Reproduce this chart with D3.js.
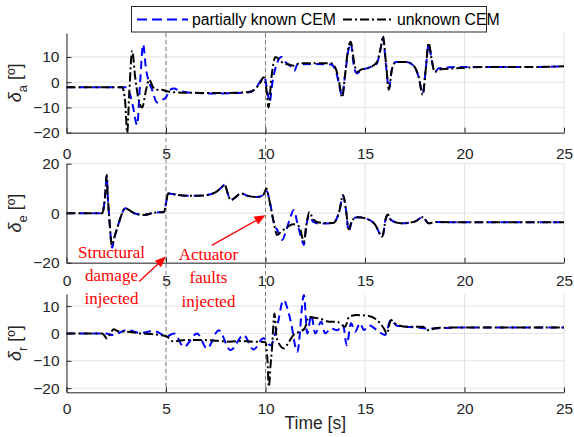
<!DOCTYPE html>
<html>
<head>
<meta charset="utf-8">
<script src="https://cdn.jsdelivr.net/npm/d3@7"></script>
<style>
body{margin:0;background:#fff}
text{font-family:Arial,"Liberation Sans",Helvetica,sans-serif}
</style>
</head>
<body>
<svg id="mainsvg" width="574" height="437"></svg>
<script>
// ticks and labels
const timeTicks = [0, 5, 10, 15, 20, 25]
const aileronTicks = [-20, -10, 0, 10]
const elevatorTicks = [-20, 0, 20]
const rudderTicks = [-20, -10, 0, 10]
const faultTimes = [5, 10]
const seriesNames = ['partially known CEM', 'unknown CEM']

// [time s, deflection deg]
const aileronKnown = [[0,-2],[3.0,-2],[3.2,-5],[3.35,-10],[3.55,-17],[3.7,0],[3.85,15],[4.0,5],[4.15,0],[4.3,-3],[4.55,-8],[4.8,-7],[5.0,-6],[5.2,-3],[5.4,-2.5],[5.7,-3.5],[6.5,-4.3],[7.5,-4.5],[8.5,-4.3],[9.2,-4],[9.5,-2.5],[9.8,1],[9.95,2],[10.1,-4],[10.2,-8],[10.35,0],[10.6,8],[10.8,10],[11.0,8],[11.3,6],[11.45,4.5],[11.6,7],[12.5,7.2],[13.3,7],[13.55,4],[13.7,-1],[13.85,-5.5],[14.0,3],[14.15,12],[14.28,15.5],[14.45,6],[14.6,3.5],[14.85,5],[15.1,5.5],[15.4,6.5],[15.6,7.5],[15.8,14],[15.9,17.5],[16.05,7],[16.2,-2.5],[16.35,5],[16.55,8],[17.1,8],[17.5,6],[17.7,2],[17.9,-4.5],[18.05,5],[18.2,15],[18.35,9],[18.5,4],[18.7,5.5],[19.5,6],[21,6],[23,6],[25,6.3]]
const aileronUnknown = [[0,-2],[2.8,-2],[2.95,-8],[3.05,-20],[3.15,-5],[3.3,12.5],[3.45,2],[3.6,-6],[3.8,-10],[4.0,-3],[4.15,1],[4.35,-2],[4.5,-3],[4.8,-3],[5.0,-3.5],[5.5,-4],[6.5,-4.2],[7.5,-4.3],[8.5,-4.2],[9.2,-3.8],[9.5,-2.5],[9.75,0],[9.9,2],[10.05,-3],[10.15,-10],[10.3,2],[10.5,10],[10.9,7.5],[11.2,7],[11.45,6.5],[11.7,7.5],[12.5,7.5],[13.3,7.5],[13.55,5],[13.7,0],[13.85,-6],[14.0,3],[14.15,13],[14.28,16],[14.45,8],[14.6,4],[14.8,5],[15.1,5.5],[15.4,6.5],[15.6,8],[15.8,14],[15.9,18.3],[16.05,8],[16.2,-3],[16.35,5],[16.55,8],[17.1,8],[17.5,6],[17.7,2],[17.9,-5],[18.05,5],[18.2,15.6],[18.35,9],[18.5,4],[18.7,5],[19.5,5.5],[21,6],[23,6],[25,6.3]]

const elevatorKnown = [[0,0],[1.8,0],[1.95,8],[2.02,15],[2.08,6],[2.15,-2],[2.3,-14],[2.4,-10],[2.55,-6],[2.75,-1],[2.95,2],[3.2,1],[3.4,0],[3.9,-0.7],[4.4,0.2],[4.9,0.5],[5.0,4],[5.1,8],[5.5,7.5],[6.2,7],[6.9,7.2],[7.5,8.5],[7.8,10.5],[7.95,11.5],[8.1,8],[8.25,5.3],[8.5,6.5],[8.75,8],[9.1,7],[9.6,6.5],[9.9,7.5],[10.05,9],[10.25,3.3],[10.4,-3.3],[10.6,-7],[10.84,-10.8],[11.0,-8],[11.2,-3],[11.42,1.3],[11.6,-4],[11.8,-10],[11.93,-12.8],[12.05,-5],[12.2,-1],[12.4,-3.5],[12.7,-4.2],[13.4,-4],[13.7,0.5],[13.9,7],[14.05,1],[14.18,-7.4],[14.35,-3],[14.6,-1.6],[15.1,-2.3],[15.5,-4.5],[15.87,-9.5],[16.05,-2],[16.15,-0.5],[16.3,-2.7],[16.8,-4.1],[17.5,-3.4],[17.9,-1.6],[18.2,-4.1],[18.5,-3.6],[21,-3.7],[25,-3.7]]
const elevatorUnknown = [[0,0],[1.8,0],[1.95,8],[2.02,15.5],[2.08,6],[2.15,-2],[2.28,-13],[2.4,-10],[2.55,-6],[2.75,-1],[2.95,2],[3.2,1],[3.4,0],[3.9,-0.7],[4.4,0.2],[4.9,0.5],[5.0,4],[5.1,8],[5.5,7.5],[6.2,7],[6.9,7.2],[7.5,8.5],[7.8,10.5],[7.95,11.5],[8.1,8],[8.25,5.3],[8.5,6.5],[8.75,8],[9.1,7],[9.6,6.5],[9.9,7.5],[10.05,10],[10.15,7],[10.25,3],[10.4,-3],[10.58,-8.8],[10.8,-7.4],[11.1,-5.5],[11.4,-4.5],[11.7,-5.5],[11.93,-11.5],[12.05,-5],[12.2,0.5],[12.4,-2.5],[12.7,-3.8],[13.4,-4],[13.7,0.5],[13.9,7.4],[14.05,1],[14.18,-6.5],[14.35,-3],[14.6,-1.6],[15.1,-2.3],[15.5,-4.5],[15.87,-9.5],[16.05,-2],[16.15,-0.5],[16.3,-2.7],[16.8,-4.1],[17.5,-3.4],[17.9,-1.6],[18.2,-4.1],[18.5,-3.6],[21,-3.7],[25,-3.7]]

const rudderKnown = [[0,0],[2.0,0],[2.3,-0.6],[3.04,1.2],[3.7,0.2],[4.38,0.9],[5.05,-1],[5.4,0],[5.9,-4.9],[6.56,0],[7.06,-5.5],[7.65,1.2],[8.24,-6.1],[8.9,-0.6],[9.4,-5.9],[9.9,-1.8],[10.25,-4.3],[10.58,2.4],[10.9,12.2],[11.25,5],[11.6,-6.7],[11.93,14],[12.1,0],[12.3,6.7],[12.5,0],[12.8,4.3],[13.0,0],[13.3,1.8],[13.6,1.2],[13.9,3],[14.08,-4.3],[14.3,3.7],[14.5,0.6],[14.75,3.7],[14.95,1.2],[15.2,3],[15.6,1.2],[16.0,-0.6],[16.3,4.9],[16.6,2.8],[17.5,2.2],[18.2,1.8],[20,2.2],[25,2.2]]
const rudderUnknown = [[0,0],[1.8,0],[2.03,-1.8],[2.2,0],[2.37,1.5],[2.6,0.8],[3.0,0.6],[3.4,0.3],[3.7,0],[4.2,-0.2],[4.7,-0.6],[5.05,-1.2],[5.38,-3],[5.7,-2.6],[6.0,-2.4],[6.7,-2.4],[7.2,-2.5],[7.6,-2.7],[8.2,-3],[8.8,-2.8],[9.4,-3],[9.8,-3],[10.0,-3.2],[10.1,-10],[10.17,-19.5],[10.25,-12],[10.33,-5],[10.45,7.3],[10.55,-1],[10.7,-4],[10.93,-5.5],[11.1,-4],[11.4,-0.6],[11.7,0.6],[11.97,1.8],[12.18,6.1],[12.4,5.8],[12.7,5.5],[13.2,4.3],[13.6,4.3],[13.75,3.7],[14.0,2.4],[14.2,6.1],[14.6,6.7],[15.1,6.5],[15.6,4.9],[15.95,1.8],[16.1,0],[16.3,4.9],[16.5,3.7],[17.1,2.4],[17.9,2.4],[18.2,1.2],[18.6,2.0],[20,2.2],[25,2.2]]

// annotation text and arrows, in elevator-panel data units
const noteStructural = ['Structural', 'damage', 'injected']
const noteActuator = ['Actuator', 'faults', 'injected']
const arrowStructural = [[3.65, -27.6], [5.0, -17.5]]
const arrowActuator = [[7.3, -13], [10.0, -0.8]]

const svg = d3.select('#mainsvg')
const x = d3.scaleLinear().domain([0, 25]).range([66.5, 564])
const axisColor = '#262626'
const gridColor = '#e3e3e3'

const panels = [
    {sub: 'a', top: 33, bottom: 132.7, ylim: [-20, 19.5], ticks: aileronTicks, known: aileronKnown, unknown: aileronUnknown, pad: 15},
    {sub: 'e', top: 163.7, bottom: 262.7, ylim: [-20, 20], ticks: elevatorTicks, known: elevatorKnown, unknown: elevatorUnknown, pad: 12},
    {sub: 'r', top: 294, bottom: 392.3, ylim: [-21.5, 14.4], ticks: rudderTicks, known: rudderKnown, unknown: rudderUnknown, pad: 11}
]

function drawPanel(p){
    let y = d3.scaleLinear().domain(p.ylim).range([p.bottom, p.top])
    p.y = y
    const g = svg.append('g')
    // grid
    g.selectAll('.gx').data(timeTicks).enter().append('line')
        .attr('x1', d => x(d)).attr('x2', d => x(d))
        .attr('y1', p.top).attr('y2', p.bottom)
        .attr('stroke', gridColor).attr('stroke-width', 1)
    g.selectAll('.gy').data(p.ticks).enter().append('line')
        .attr('x1', x(0)).attr('x2', x(25))
        .attr('y1', d => y(d)).attr('y2', d => y(d))
        .attr('stroke', gridColor).attr('stroke-width', 1)
    return g
}

function drawSeries(p){
    let line = d3.line().x(d => x(d[0])).y(d => p.y(d[1])).curve(d3.curveMonotoneX)
    const g = svg.append('g')
    g.append('path').datum(p.known).attr('d', line)
        .attr('fill', 'none').attr('stroke', '#0000ff').attr('stroke-width', 2)
        .attr('stroke-dasharray', '8,5')
    g.append('path').datum(p.unknown).attr('d', line)
        .attr('fill', 'none').attr('stroke', '#000').attr('stroke-width', 2)
        .attr('stroke-dasharray', '9,3,2,3')
}

function drawAxes(p){
    const gx = svg.append('g').attr('transform', `translate(0,${p.bottom})`)
        .call(d3.axisBottom(x).tickValues(timeTicks).tickSizeInner(-5).tickSizeOuter(0).tickPadding(p.pad))
    const gy = svg.append('g').attr('transform', `translate(${x(0)},0)`)
        .call(d3.axisLeft(p.y).tickValues(p.ticks).tickSizeInner(-5).tickSizeOuter(0).tickPadding(7))
    for (const a of [gx, gy]) {
        a.select('.domain').attr('stroke', axisColor)
        a.selectAll('.tick line').attr('stroke', axisColor)
        a.selectAll('text').attr('fill', axisColor).style('font-size', '15.5px')
            .style('font-family', 'Arial, "Liberation Sans", sans-serif')
    }
    // y label
    const lab = svg.append('text')
        .attr('transform', `translate(21,${(p.top + p.bottom) / 2}) rotate(-90)`)
        .attr('text-anchor', 'middle').attr('fill', axisColor).style('font-size', '18px')
    lab.append('tspan').text('δ').style('font-style', 'italic')
    lab.append('tspan').text(p.sub).attr('dy', 6).style('font-size', '13px')
    lab.append('tspan').text(' [º]').attr('dy', -6)
}

panels.forEach(drawPanel)

// fault lines through all panels
svg.append('g').selectAll('line').data(faultTimes).enter().append('line')
    .attr('x1', d => x(d)).attr('x2', d => x(d))
    .attr('y1', panels[0].top).attr('y2', panels[2].bottom)
    .attr('stroke', '#808080').attr('stroke-width', 1).attr('stroke-dasharray', '4,3')

panels.forEach(drawSeries)
panels.forEach(drawAxes)

svg.append('text').attr('x', x(12.5)).attr('y', 429).attr('text-anchor', 'middle')
    .attr('fill', axisColor).style('font-size', '17.5px').text('Time [s]')

// legend
const lg = svg.append('g')
lg.append('rect').attr('x', 131.5).attr('y', 6.5).attr('width', 355).attr('height', 25.5)
    .attr('fill', 'white').attr('stroke', axisColor)
lg.append('line').attr('x1', 137).attr('x2', 188).attr('y1', 19.5).attr('y2', 19.5)
    .attr('stroke', '#0000ff').attr('stroke-width', 2).attr('stroke-dasharray', '10,5')
lg.append('line').attr('x1', 343).attr('x2', 393).attr('y1', 19.5).attr('y2', 19.5)
    .attr('stroke', '#000').attr('stroke-width', 2).attr('stroke-dasharray', '9,3,2,3')
lg.append('text').attr('x', 192).attr('y', 25).style('font-size', '15.8px').attr('fill', '#000').text(seriesNames[0])
lg.append('text').attr('x', 397).attr('y', 25).style('font-size', '15.8px').attr('fill', '#000').text(seriesNames[1])

// red annotations
function drawNote(lines, cx, by){
    const t = svg.append('text').attr('text-anchor', 'middle').attr('fill', '#ff0000')
        .style('font-family', '"Liberation Serif", "Times New Roman", serif').style('font-size', '17px')
    lines.forEach((s, i) => t.append('tspan').attr('x', cx).attr('y', by + i * 23.3).text(s))
}
drawNote(noteStructural, 111.5, 257.5)
drawNote(noteActuator, 208.5, 260)

function drawArrow(a){
    let yE = panels[1].y
    let x0 = x(a[0][0]), y0 = yE(a[0][1]), x1 = x(a[1][0]), y1 = yE(a[1][1])
    let ang = Math.atan2(y1 - y0, x1 - x0)
    let L = 11, W = 4.5
    let bx = x1 - L * Math.cos(ang), by = y1 - L * Math.sin(ang)
    svg.append('line').attr('x1', x0).attr('y1', y0).attr('x2', bx).attr('y2', by)
        .attr('stroke', '#ff0000').attr('stroke-width', 1.3)
    svg.append('path')
        .attr('d', `M${x1},${y1} L${bx - W * Math.sin(ang)},${by + W * Math.cos(ang)} L${bx + W * Math.sin(ang)},${by - W * Math.cos(ang)} Z`)
        .attr('fill', '#ff0000')
}
drawArrow(arrowStructural)
drawArrow(arrowActuator)
</script>
</body>
</html>
